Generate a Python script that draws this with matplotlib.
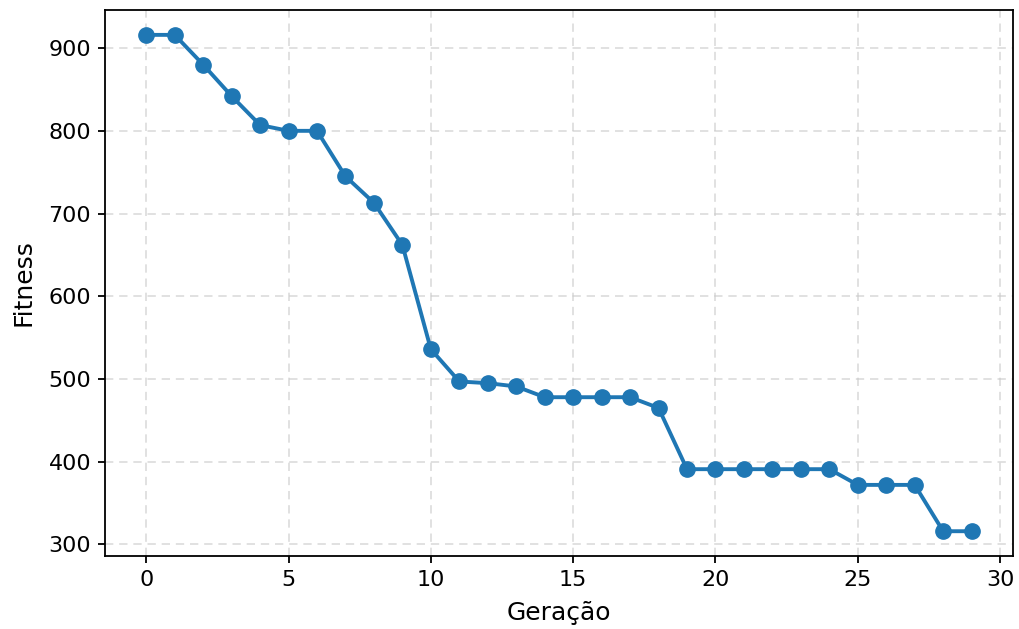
import matplotlib
matplotlib.use("Agg")
import matplotlib.pyplot as plt

geracao = list(range(30))
fitness = [916, 916, 880, 842, 807, 800, 800, 745, 713, 662,
           536, 497, 495, 491, 478, 478, 478, 478, 465, 391,
           391, 391, 391, 391, 391, 372, 372, 372, 316, 316]

fig = plt.figure(figsize=(10.19, 6.29), dpi=100)
ax = fig.add_axes([0.103, 0.116, 0.891, 0.868])
ax.plot(geracao, fitness, marker='o', color='#1f77b4', linewidth=2.8, markersize=11)
ax.grid(True, linestyle=(0, (5, 3.5)), color='#cccccc', alpha=0.7, linewidth=1.2)
ax.set_xlabel('Geração', fontsize=18, labelpad=8)
ax.set_ylabel('Fitness', fontsize=18, labelpad=9)
ax.tick_params(labelsize=16, length=5, width=1.3, pad=5)
for s in ax.spines.values():
    s.set_linewidth(1.3)
fig.savefig('out.png', dpi=100)
